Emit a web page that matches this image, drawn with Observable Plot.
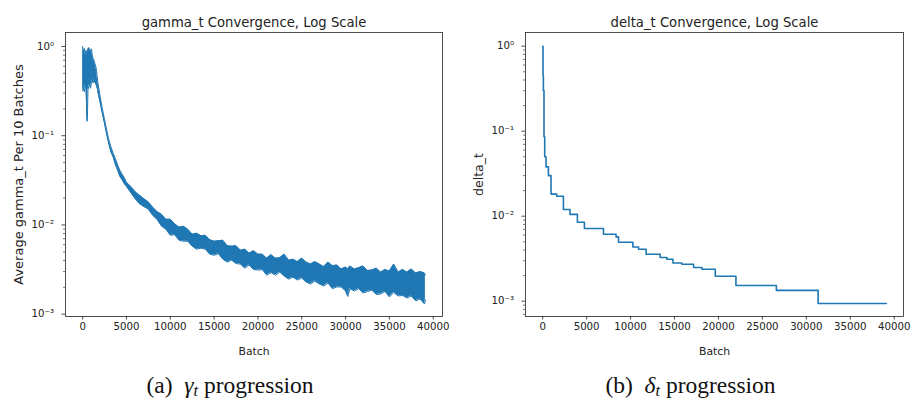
<!DOCTYPE html>
<html><head><meta charset="utf-8">
<script src="https://cdn.jsdelivr.net/npm/d3@7"></script>
<script src="https://cdn.jsdelivr.net/npm/@observablehq/plot@0.6"></script>
<style>
body{margin:0;background:#fff;}
#root{position:relative;width:913px;height:405px;overflow:hidden;background:#fff;}
.panel{position:absolute;top:0;}
.cap{position:absolute;top:371.6px;font-family:"Liberation Serif","Times New Roman",serif;font-size:23.5px;line-height:27px;text-align:center;color:#111;white-space:nowrap;}
.sub{font-size:0.7em;position:relative;top:0.22em;}
</style></head><body>
<div id="root">
  <div id="left" class="panel" style="left:0"></div>
  <div id="right" class="panel" style="left:460px"></div>
  <div class="cap" style="left:0;width:460px">(a)&nbsp; <i>γ</i><i class="sub">t</i> progression</div>
  <div class="cap" style="left:460px;width:461px">(b)&nbsp; <i>δ</i><i class="sub">t</i> progression</div>
</div>
<script>
// ---- left panel: average gamma_t per 10 batches (band) ----
const gammaBatch = [0,100,200,300,400,500,550,600,700,800,
  900,1000,1100,1200,1300,1400,1500,1600,1700,1800,
  2000,2250,2500,2750,3000,3250,3500,3750,4000,4250,
  4500,4750,5000,5500,6000,6500,7000,7500,8000,8500,
  9000,9500,10000,10500,11000,11500,12000,12500,13000,13500,
  14000,14500,15000,15500,16000,16500,17000,17500,18000,18500,
  19000,19500,20000,20500,21000,21500,22000,22500,23000,23500,
  24000,24500,25000,25500,26000,26500,27000,27500,28000,28500,
  29000,29500,30000,30250,30500,31000,31500,32000,32500,33000,
  33500,34000,34500,35000,35500,36000,36500,37000,37500,38000,
  38500,39000,39100];
const gammaHigh = [1.00,0.86,0.95,0.80,0.90,0.83,0.80,0.93,0.97,0.92,
  0.86,0.94,0.80,0.73,0.70,0.64,0.60,0.52,0.42,0.36,
  0.276,0.20,0.152,0.115,0.089,0.074,0.063,0.055,0.047,0.041,
  0.037,0.034,0.030,0.027,0.0235,0.0215,0.0196,0.0181,0.0158,0.0141,
  0.01315,0.01156,0.01156,0.0103,0.00942,0.00967,0.00895,0.00787,0.00807,0.00757,
  0.00767,0.00683,0.00657,0.00666,0.00674,0.00585,0.00578,0.00585,0.00521,0.00535,
  0.00482,0.00515,0.00470,0.00470,0.00424,0.00464,0.00424,0.00430,0.00470,0.00403,
  0.00413,0.00388,0.00424,0.00383,0.00364,0.00388,0.00364,0.00341,0.00383,0.00350,
  0.00355,0.00320,0.00337,0.00320,0.00346,0.00320,0.00332,0.00346,0.00308,0.00312,
  0.00328,0.00296,0.00316,0.00304,0.00364,0.00296,0.00316,0.00296,0.00320,0.00289,
  0.00300,0.00289,0.00274];
const gammaLow = [0.32,0.34,0.31,0.37,0.33,0.145,0.16,0.32,0.36,0.37,
  0.34,0.39,0.42,0.39,0.44,0.40,0.38,0.36,0.33,0.29,
  0.236,0.178,0.137,0.103,0.080,0.065,0.057,0.047,0.041,0.035,
  0.032,0.029,0.027,0.023,0.0196,0.0172,0.0160,0.0150,0.0128,0.0115,
  0.00967,0.00895,0.00767,0.00777,0.00674,0.00657,0.00657,0.00578,0.00535,0.00549,
  0.00535,0.00470,0.00458,0.00476,0.00413,0.00383,0.00403,0.00369,0.00364,0.00328,
  0.00355,0.00316,0.00312,0.00316,0.00274,0.00292,0.00274,0.00296,0.00267,0.00247,
  0.00260,0.00241,0.00254,0.00229,0.00218,0.00235,0.00218,0.00207,0.00223,0.00193,
  0.00202,0.00202,0.00182,0.00158,0.00193,0.00182,0.00193,0.00173,0.00179,0.00186,
  0.00166,0.00168,0.00180,0.00156,0.00175,0.00160,0.00162,0.00152,0.00160,0.00141,
  0.00148,0.00130,0.00144];

// ---- right panel: delta_t step values ----
const deltaBatch = [0,40,80,150,230,380,650,950,1600,2360,3110,3950,4750,6920,8350,8630,
  10260,10910,11770,13370,14130,14820,15840,17170,18120,19640,21990,26590,31340,39100];
const deltaValue = [1.0,0.45,0.30,0.086,0.050,0.038,0.030,0.0182,0.0172,0.0120,0.0105,0.0085,0.00716,0.00614,0.00571,0.00494,
  0.00435,0.00409,0.00357,0.00327,0.00312,0.00282,0.00272,0.00249,0.00238,0.00197,0.00153,0.00134,0.00094,0.00094];

// ---- ticks and labels ----
const xTicks = [0,5000,10000,15000,20000,25000,30000,35000,40000];
const yTicks = [1,0.1,0.01,0.001];
const yTickLabels = ["10⁰","10⁻¹","10⁻²","10⁻³"];
const minorTicksLeft = [0.002,0.003,0.004,0.005,0.006,0.007,0.008,0.009,
  0.02,0.03,0.04,0.05,0.06,0.07,0.08,0.09,0.2,0.3,0.4,0.5,0.6,0.7,0.8,0.9];
const minorTicksRight = [0.0007,0.0008,0.0009].concat(minorTicksLeft);
const titles = ["gamma_t Convergence, Log Scale","delta_t Convergence, Log Scale"];
const yLabels = ["Average gamma_t Per 10 Batches","delta_t"];
const xLabel = "Batch";

const C0 = "#1f77b4";
const INK = "#222";
const gammaRows = gammaBatch.map((b,i)=>({batch:b, hi:gammaHigh[i], lo:gammaLow[i]}));
const deltaRows = deltaBatch.map((b,i)=>({batch:b, v:deltaValue[i]}));
const fmtX = d3.format("d");
const fmtY = d => yTickLabels[yTicks.indexOf(d)] ?? "";

function commonMarks(title, ylab, ylabSize, minor){
  return [
    Plot.axisX({ticks: xTicks, tickSize: 3.5, tickPadding: 3, tickFormat: fmtX, label: null, stroke: INK, fill: INK, strokeWidth: 0.8}),
    Plot.axisY({ticks: yTicks, tickSize: 3.5, tickPadding: 8, tickFormat: fmtY, label: null, stroke: INK, fill: INK, strokeWidth: 0.8}),
    Plot.axisY({ticks: minor, tickSize: 2, tickFormat: () => "", label: null, stroke: INK, strokeWidth: 0.6}),
    Plot.frame({stroke: INK, strokeWidth: 0.8}),
    Plot.text([title], {text: d=>d, frameAnchor: "top", dy: -6, lineAnchor: "bottom", fontSize: 13.2, fill: INK}),
    Plot.text([ylab], {text: d=>d, frameAnchor: "left", dx: -47, rotate: -90, textAnchor: "middle", lineAnchor: "middle", fontSize: ylabSize, fill: INK}),
    Plot.text([xLabel], {text: d=>d, frameAnchor: "bottom", dy: 34.7, lineAnchor: "middle", fontSize: 10.8, fill: INK})
  ];
}

const left = Plot.plot({
  width: 460, height: 365,
  marginLeft: 65, marginRight: 18, marginTop: 32, marginBottom: 49,
  style: {fontFamily: "DejaVu Sans", fontSize: "10.2px", background: "#fff", color: INK, overflow: "visible"},
  x: {domain: [-1955, 41055]},
  y: {type: "log", domain: [0.000942, 1.434]},
  marks: [
    Plot.areaY(gammaRows, {x: "batch", y1: "lo", y2: "hi", fill: C0}),
    Plot.line(gammaRows, {x: "batch", y: "hi", stroke: C0, strokeWidth: 1}),
    Plot.line(gammaRows, {x: "batch", y: "lo", stroke: C0, strokeWidth: 1}),
    ...commonMarks(titles[0], yLabels[0], 13, minorTicksLeft)
  ]
});
document.getElementById("left").append(left);

const right = Plot.plot({
  width: 453, height: 365,
  marginLeft: 65, marginRight: 10, marginTop: 32, marginBottom: 49,
  style: {fontFamily: "DejaVu Sans", fontSize: "10.2px", background: "#fff", color: INK, overflow: "visible"},
  x: {domain: [-1955, 41055]},
  y: {type: "log", domain: [0.000661, 1.449]},
  marks: [
    Plot.line(deltaRows, {x: "batch", y: "v", curve: "step-after", stroke: C0, strokeWidth: 1.6}),
    ...commonMarks(titles[1], yLabels[1], 12.5, minorTicksRight)
  ]
});
document.getElementById("right").append(right);
</script>
</body></html>
